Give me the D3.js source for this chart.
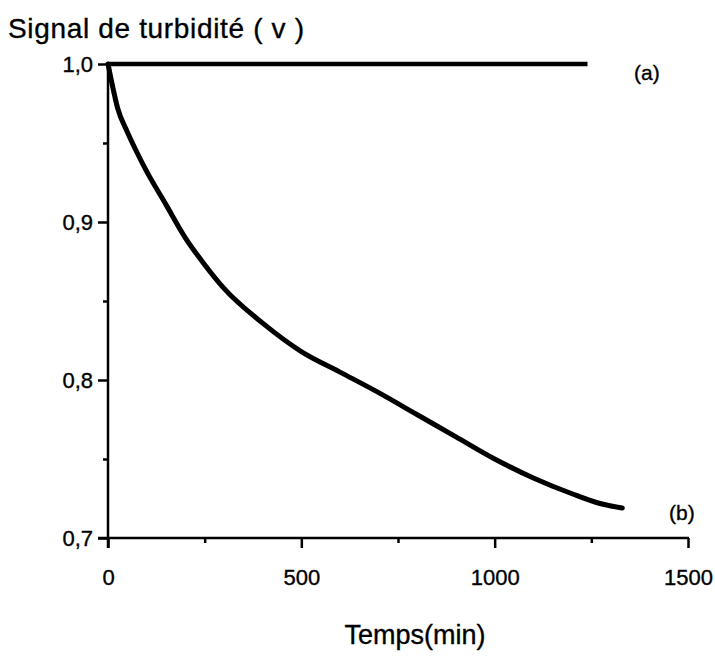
<!DOCTYPE html>
<html>
<head>
<meta charset="utf-8">
<script src="https://cdn.jsdelivr.net/npm/d3@7"></script>
<style>
  html, body { margin: 0; padding: 0; background: #fff; }
  svg { display: block; font-family: "Liberation Sans", Arial, sans-serif; }
  .txt { fill: #000; stroke: #000; stroke-width: 0.35px; }
</style>
</head>
<body>
<svg id="chart" width="715" height="657"></svg>
<script>
// Turbidity signal (V) against time (min)
const timeA = [0, 1240];
const signalA = [1.0, 1.0];

const timeB = [0, 10, 25, 50, 75, 100, 150, 200, 250, 300, 400, 500, 600, 700, 800, 900, 1000, 1100, 1200, 1270, 1330];
const signalB = [1.0, 0.988, 0.972, 0.957, 0.944, 0.932, 0.911, 0.890, 0.873, 0.858, 0.836, 0.818, 0.805, 0.792, 0.778, 0.764, 0.750, 0.738, 0.728, 0.722, 0.719];

const xTicks = [0, 500, 1000, 1500];
const xMinorTicks = [250, 750, 1250];
const yTicks = [0.7, 0.8, 0.9, 1.0];
const yMinorTicks = [0.75, 0.85, 0.95];

const svg = d3.select("#chart");
const x = d3.scaleLinear().domain([0, 1500]).range([108, 688]);
const y = d3.scaleLinear().domain([0.7, 1.0]).range([538, 64]);
const fmt = d => d3.format(".1f")(d).replace(".", ",");

function styleAxis(g) {
  g.selectAll(".domain").remove();
  g.selectAll(".tick line").style("stroke", "#000").style("stroke-width", "2.5px");
  g.selectAll(".tick text").attr("class", "txt").style("font-size", "22px")
    .style("font-family", "Liberation Sans, Arial, sans-serif");
}

// x axis
const gx = svg.append("g").attr("transform", `translate(0,${y(0.7)})`);
gx.call(d3.axisBottom(x).tickValues(xTicks).tickSize(10).tickPadding(21).tickFormat(d3.format("d")));
gx.append("g").call(d3.axisBottom(x).tickValues(xMinorTicks).tickSize(5).tickFormat(""));
styleAxis(gx);
gx.append("line").attr("x1", x(0) - 10).attr("x2", x(1500) + 1)
  .style("stroke", "#000").style("stroke-width", "2.5px");

// y axis
const gy = svg.append("g").attr("transform", `translate(${x(0)},0)`);
gy.call(d3.axisLeft(y).tickValues(yTicks).tickSize(10).tickPadding(5).tickFormat(fmt));
gy.append("g").call(d3.axisLeft(y).tickValues(yMinorTicks).tickSize(5).tickFormat(""));
styleAxis(gy);
gy.append("line").attr("y1", y(1.0) - 1).attr("y2", y(0.7) + 10)
  .style("stroke", "#000").style("stroke-width", "2.5px");

// curves
const line = d3.line().x(d => x(d[0])).y(d => y(d[1])).curve(d3.curveMonotoneX);
svg.append("path").datum(d3.zip(timeA, signalA)).attr("d", line)
  .attr("fill", "none").attr("stroke", "#000").attr("stroke-width", 4.5);
svg.append("path").datum(d3.zip(timeB, signalB)).attr("d", line)
  .attr("fill", "none").attr("stroke", "#000").attr("stroke-width", 5).attr("stroke-linecap", "round");

// series labels
svg.append("text").attr("class", "txt").attr("x", 634).attr("y", 80).style("font-size", "21px").text("(a)");
svg.append("text").attr("class", "txt").attr("x", 669).attr("y", 520).style("font-size", "21px").text("(b)");

// axis titles
svg.append("text").attr("class", "txt").attr("x", 8).attr("y", 38).style("font-size", "28px")
  .attr("textLength", 296).text("Signal de turbidité ( v )");
svg.append("text").attr("class", "txt").attr("x", 415).attr("y", 644).attr("text-anchor", "middle")
  .style("font-size", "27px").text("Temps(min)");
</script>
</body>
</html>
